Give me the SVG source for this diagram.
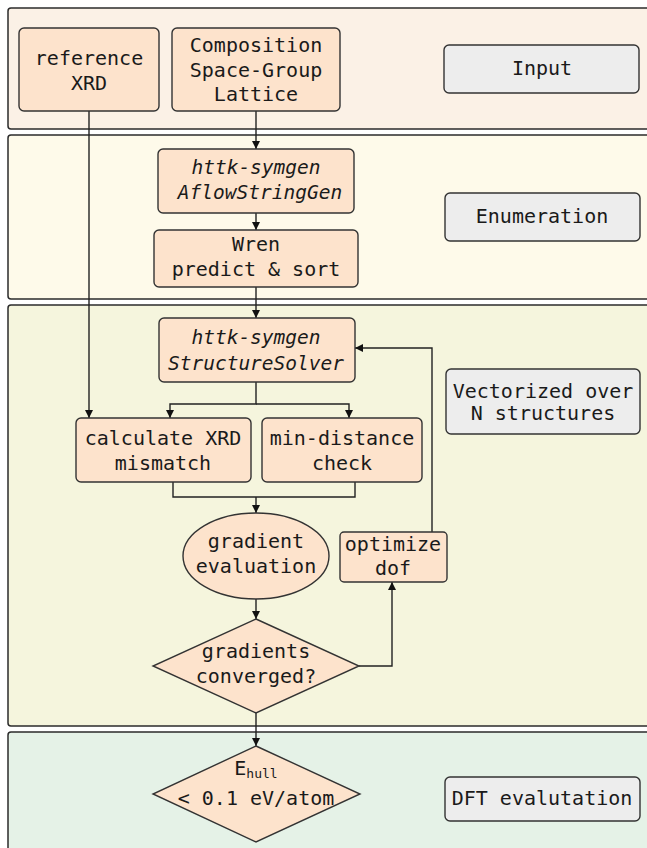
<svg xmlns="http://www.w3.org/2000/svg" width="647" height="848" viewBox="0 0 647 848">
<defs>
<style>
.panel{stroke:#2b2b2b;stroke-width:1.5}
.node{fill:#fde3cc;stroke:#333;stroke-width:1.4}
.lbl{fill:#ededed;stroke:#333;stroke-width:1.4}
text{font-family:"DejaVu Sans Mono","Liberation Mono",monospace;font-size:20px;fill:#1a1a1a;text-anchor:middle}
.it{font-style:italic;font-size:19.5px}
.c{fill:none;stroke:#222;stroke-width:1.4}
</style>
<marker id="ah" viewBox="0 0 10 10" refX="10" refY="5" markerWidth="8" markerHeight="8" markerUnits="userSpaceOnUse" orient="auto">
<path d="M0,0 L10,5 L0,10 z" fill="#111"/>
</marker>
</defs>
<rect width="647" height="848" fill="#ffffff"/>
<g id="panels">
<rect id="panel-input" class="panel" x="8" y="8" width="646" height="121" rx="3" fill="#fbf1e6"/>
<rect id="panel-enum" class="panel" x="8" y="135" width="646" height="164" rx="3" fill="#fefaea"/>
<rect id="panel-vec" class="panel" x="8" y="305" width="646" height="421" rx="3" fill="#f5f5dd"/>
<rect id="panel-dft" class="panel" x="8" y="732" width="646" height="130" rx="3" fill="#e5f2e7"/>
</g>
<g id="connectors">
<line class="c" x1="89" y1="111" x2="89" y2="418" marker-end="url(#ah)"/>
<line class="c" x1="256" y1="111" x2="256" y2="149" marker-end="url(#ah)"/>
<line class="c" x1="256" y1="213" x2="256" y2="230" marker-end="url(#ah)"/>
<line class="c" x1="256" y1="287" x2="256" y2="318" marker-end="url(#ah)"/>
<polyline class="c" points="256,382 256,404 170,404 170,418" marker-end="url(#ah)"/>
<polyline class="c" points="256,404 349,404 349,418" marker-end="url(#ah)"/>
<polyline class="c" points="173,482 173,497 355,497 355,482"/>
<line class="c" x1="256" y1="497" x2="256" y2="513" marker-end="url(#ah)"/>
<line class="c" x1="256" y1="599" x2="256" y2="619" marker-end="url(#ah)"/>
<polyline class="c" points="359,666 392,666 392,582" marker-end="url(#ah)"/>
<polyline class="c" points="432,532 432,348 355,348" marker-end="url(#ah)"/>
<line class="c" x1="256" y1="713" x2="256" y2="746" marker-end="url(#ah)"/>
</g>
<g id="n-refxrd">
<rect class="node" x="19" y="28" width="140" height="83" rx="5"/>
<text x="89" y="65">reference</text>
<text x="89" y="90">XRD</text>
</g>
<g id="n-comp">
<rect class="node" x="172" y="28" width="168" height="83" rx="5"/>
<text x="256" y="52">Composition</text>
<text x="256" y="77">Space-Group</text>
<text x="256" y="101">Lattice</text>
</g>
<g id="l-input">
<rect class="lbl" x="444" y="45" width="195" height="48" rx="5"/>
<text x="542" y="75">Input</text>
</g>
<g id="n-aflow">
<rect class="node" x="158" y="149" width="196" height="64" rx="5"/>
<text class="it" x="256" y="174">httk-symgen</text>
<text class="it" x="260" y="199">AflowStringGen</text>
</g>
<g id="n-wren">
<rect class="node" x="154" y="230" width="204" height="57" rx="5"/>
<text x="256" y="251">Wren</text>
<text x="256" y="276">predict &amp; sort</text>
</g>
<g id="l-enum">
<rect class="lbl" x="445" y="193" width="195" height="48" rx="5"/>
<text x="542" y="223">Enumeration</text>
</g>
<g id="n-solver">
<rect class="node" x="159" y="318" width="196" height="64" rx="5"/>
<text class="it" x="256" y="344">httk-symgen</text>
<text class="it" x="256" y="370">StructureSolver</text>
</g>
<g id="l-vec">
<rect class="lbl" x="446" y="369" width="194" height="65" rx="5"/>
<text x="543" y="398">Vectorized over</text>
<text x="543" y="420">N structures</text>
</g>
<g id="n-xrd">
<rect class="node" x="76" y="418" width="175" height="64" rx="5"/>
<text x="163" y="445">calculate XRD</text>
<text x="163" y="470">mismatch</text>
</g>
<g id="n-mindist">
<rect class="node" x="262" y="418" width="160" height="64" rx="5"/>
<text x="342" y="445">min-distance</text>
<text x="342" y="470">check</text>
</g>
<g id="n-grad">
<ellipse class="node" cx="256" cy="556" rx="73" ry="43"/>
<text x="256" y="548">gradient</text>
<text x="256" y="573">evaluation</text>
</g>
<g id="n-opt">
<rect class="node" x="340" y="532" width="107" height="50" rx="4"/>
<text x="393" y="551">optimize</text>
<text x="393" y="575">dof</text>
</g>
<g id="n-conv">
<polygon class="node" points="256,619 359,666 256,713 153,666"/>
<text x="256" y="658">gradients</text>
<text x="256" y="683">converged?</text>
</g>
<g id="n-ehull">
<polygon class="node" points="256,746 360,794 256,842 153,794"/>
<text x="256" y="775">E<tspan font-size="13" dy="3">hull</tspan></text>
<text x="256" y="805" font-size="19">&lt; 0.1 eV/atom</text>
</g>
<g id="l-dft">
<rect class="lbl" x="445" y="777" width="195" height="44" rx="5"/>
<text x="542" y="805">DFT evalutation</text>
</g>
</svg>
